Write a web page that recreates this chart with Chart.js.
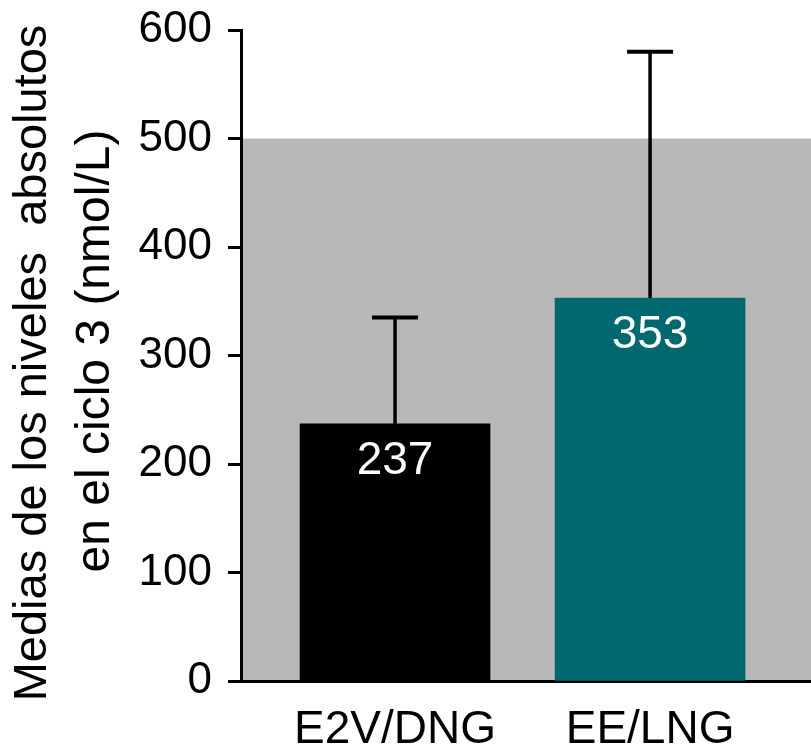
<!DOCTYPE html>
<html>
<head>
<meta charset="utf-8">
<script src="https://cdn.jsdelivr.net/npm/chart.js@4.4.1/dist/chart.umd.min.js"></script>
<style>
  html, body { margin: 0; padding: 0; background: #fff; }
  #wrap { width: 811px; height: 749px; }
</style>
</head>
<body>
<div id="wrap"><canvas id="levelsChart" width="811" height="749"></canvas></div>
<script>
// Data
const categories = ['E2V/DNG', 'EE/LNG'];
const means = [237, 353];
const errorTops = [335, 580];
const barColors = ['#000000', '#01686f'];
const yTicks = [0, 100, 200, 300, 400, 500, 600];
const bandTop = 500;
const titleLines = ['Medias de los niveles  absolutos', 'en el ciclo 3 (nmol/L)'];

const FONT = '"Liberation Sans", Arial, sans-serif';
Chart.defaults.font.family = FONT;
Chart.defaults.color = '#000';

// grey reference band behind everything
const bandPlugin = {
    id: 'band',
    beforeDraw(chart) {
        const { ctx, chartArea, scales } = chart;
        const yTop = scales.y.getPixelForValue(bandTop);
        const yBot = scales.y.getPixelForValue(0);
        ctx.save();
        ctx.fillStyle = '#b8b8b8';
        ctx.fillRect(chartArea.left, yTop, chartArea.right - chartArea.left, yBot - yTop);
        ctx.restore();
    }
};

// error bars, value labels and the two-line axis title
const extrasPlugin = {
    id: 'extras',
    afterDatasetsDraw(chart) {
        const { ctx, scales } = chart;
        const meta = chart.getDatasetMeta(0);
        ctx.save();
        meta.data.forEach((bar, i) => {
            const x = bar.x;
            const yBar = scales.y.getPixelForValue(means[i]);
            const yErr = scales.y.getPixelForValue(errorTops[i]);
            ctx.strokeStyle = '#000';
            ctx.lineWidth = 3.5;
            ctx.beginPath();
            ctx.moveTo(x, yBar);
            ctx.lineTo(x, yErr);
            ctx.stroke();
            ctx.lineWidth = 4;
            ctx.beginPath();
            ctx.moveTo(x - 23, yErr);
            ctx.lineTo(x + 23, yErr);
            ctx.stroke();

            ctx.fillStyle = '#fff';
            ctx.font = '46px ' + FONT;
            ctx.textAlign = 'center';
            ctx.textBaseline = 'alphabetic';
            ctx.fillText(String(means[i]), x, yBar + 50);
        });

        ctx.fillStyle = '#000';
        ctx.textAlign = 'center';
        ctx.textBaseline = 'alphabetic';
        ctx.save();
        ctx.font = '47px ' + FONT;
        ctx.translate(46, 363);
        ctx.rotate(-Math.PI / 2);
        ctx.fillText(titleLines[0], 0, 0);
        ctx.restore();
        ctx.save();
        ctx.font = '48px ' + FONT;
        ctx.translate(109, 351);
        ctx.rotate(-Math.PI / 2);
        ctx.fillText(titleLines[1], 0, 0);
        ctx.restore();
        ctx.restore();
    }
};

new Chart(document.getElementById('levelsChart'), {
    type: 'bar',
    data: {
        datasets: [{
            data: categories.map((c, i) => ({ x: i, y: means[i] })),
            backgroundColor: barColors,
            borderWidth: 0,
            barThickness: 190
        }]
    },
    options: {
        responsive: false,
        animation: false,
        layout: { padding: { top: 30, right: 0, left: 0, bottom: 0 } },
        plugins: {
            legend: { display: false },
            tooltip: { enabled: false }
        },
        scales: {
            x: {
                type: 'linear',
                position: 'bottom',
                bounds: 'data',
                offset: false,
                min: -0.604,
                max: 1.631,
                grid: { drawOnChartArea: false, drawTicks: false, offset: false },
                border: { display: true, color: '#000', width: 3 },
                afterBuildTicks(scale) { scale.ticks = categories.map((c, i) => ({ value: i })); },
                ticks: {
                    autoSkip: false,
                    maxRotation: 0,
                    padding: 22,
                    font: { size: 46 },
                    color: '#000',
                    callback: (v) => categories[v] ?? ''
                },
                afterFit(scale) {
                    scale.height = 68;
                    scale.paddingLeft = 0;
                    scale.paddingRight = 0;
                }
            },
            y: {
                min: 0,
                max: 600,
                grid: { drawOnChartArea: false, drawTicks: true, tickLength: 13, tickWidth: 3, tickColor: '#000' },
                border: { display: true, color: '#000', width: 3 },
                afterBuildTicks(scale) { scale.ticks = yTicks.map(v => ({ value: v })); },
                ticks: {
                    padding: 16,
                    font: { size: 44 },
                    color: '#000'
                },
                afterFit(scale) {
                    scale.width = 241;
                    scale.paddingTop = 0;
                    scale.paddingBottom = 0;
                }
            }
        }
    },
    plugins: [bandPlugin, extrasPlugin]
});
</script>
</body>
</html>
